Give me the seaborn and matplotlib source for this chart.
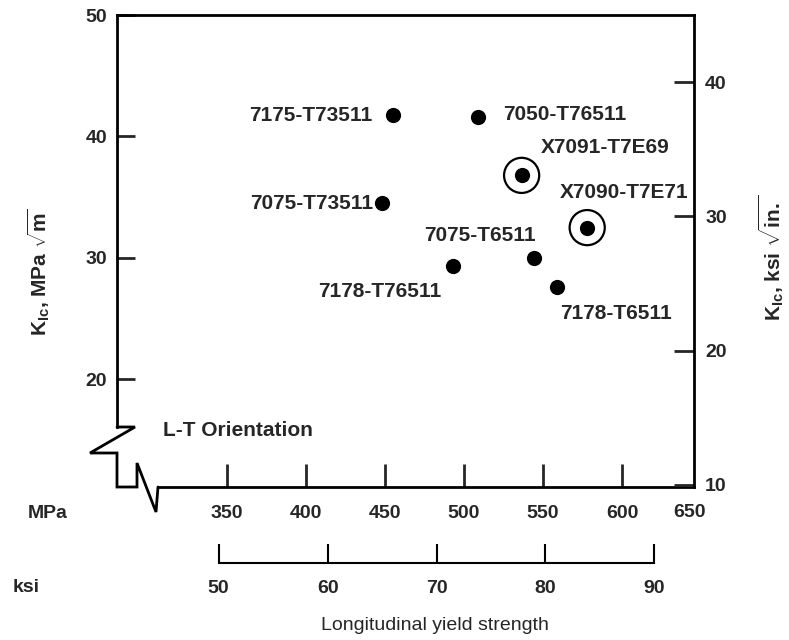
import matplotlib
matplotlib.use("Agg")
import matplotlib.pyplot as plt
import seaborn as sns
import pandas as pd
from matplotlib.lines import Line2D

# ---------------- data ----------------
alloys = ["7175-T73511", "7050-T76511", "X7091-T7E69", "7075-T73511",
          "X7090-T7E71", "7075-T6511", "7178-T76511", "7178-T6511"]
yield_mpa = [455, 509, 536.5, 448, 578, 544.5, 493, 559]
kic_mpa = [41.8, 41.6, 36.8, 34.5, 32.5, 30.0, 29.3, 27.6]
circled = [False, False, True, False, True, False, False, False]

mpa_ticks = [350, 400, 450, 500, 550, 600]
ksi_ticks = [50, 60, 70, 80, 90]
left_ticks = [20, 30, 40, 50]
right_ticks = [10, 20, 30, 40]

df = pd.DataFrame({"alloy": alloys, "ys": yield_mpa, "kic": kic_mpa, "circ": circled})

# ---------------- style ----------------
sns.set_style("white")
FONT = ["Liberation Sans", "DejaVu Sans"]
plt.rcParams["font.family"] = FONT
plt.rcParams["font.weight"] = "bold"
plt.rcParams["mathtext.fontset"] = "custom"
plt.rcParams["mathtext.rm"] = "Liberation Sans:bold"
plt.rcParams["mathtext.it"] = "Liberation Sans:bold"
plt.rcParams["mathtext.bf"] = "Liberation Sans:bold"

W, H = 789, 640
fig = plt.figure(figsize=(W / 100, H / 100), dpi=100)
L, R, T, B = 117, 694, 15, 487
ax = fig.add_axes([L / W, 1 - B / H, (R - L) / W, (B - T) / H])

XLIM = (280.4, 645.6)
YLIM = (11.15, 50.0)
ax.set_xlim(XLIM)
ax.set_ylim(YLIM)

def frac(px, py):
    return ((px - L) / (R - L), (B - py) / (B - T))

LW = 2.0
# points
sns.scatterplot(data=df, x="ys", y="kic", ax=ax, color="black", s=120,
                edgecolor="black", linewidth=0, legend=False, zorder=3)
sns.scatterplot(data=df[df["circ"]], x="ys", y="kic", ax=ax, s=640,
                facecolor="none", edgecolor="black", linewidth=1.6,
                legend=False, zorder=3)

# annotations (offsets in points)
offsets = {
    "7175-T73511": (-15, -0.7, "right"),
    "7050-T76511": (18, 2, "left"),
    "X7091-T7E69": (14, 20, "left"),
    "7075-T73511": (-6.5, 0, "right"),
    "X7090-T7E71": (-20, 25, "left"),
    "7075-T6511": (1, 16, "right"),
    "7178-T76511": (-8, -18, "right"),
    "7178-T6511": (2, -19, "left"),
}
for a, xv, yv in zip(alloys, yield_mpa, kic_mpa):
    dx, dy, ha = offsets[a]
    ax.annotate(a, (xv, yv), xytext=(dx, dy), textcoords="offset points",
                ha=ha, va="center", fontsize=15, fontweight="bold")

# spines
for s in ["top", "right", "left", "bottom"]:
    ax.spines[s].set_linewidth(LW)
    ax.spines[s].set_color("black")
ax.spines["right"].set_visible(False)
y_break = YLIM[0] + frac(117, 427)[1] * (YLIM[1] - YLIM[0])
x_break = XLIM[0] + frac(158, 487)[0] * (XLIM[1] - XLIM[0])
ax.spines["left"].set_bounds(y_break, YLIM[1])
ax.spines["bottom"].set_bounds(x_break, XLIM[1])
brk = [(117, 427), (135, 427), (90, 453), (117, 453), (117, 487), (137, 487),
       (137, 463), (156, 512), (158, 487)]
bx, by = zip(*[frac(*p) for p in brk])
ax.add_line(Line2D(bx, by, transform=ax.transAxes, color="black", lw=LW,
                   clip_on=False, solid_joinstyle="miter"))

# ticks
ax.set_xticks(mpa_ticks)
ax.set_xticklabels([str(t) for t in mpa_ticks])
ax.tick_params(axis="x", direction="in", length=16.5, width=LW, pad=13,
               labelsize=14, bottom=True, top=False)
ax.set_yticks(left_ticks)
ax.set_yticklabels([str(t) for t in left_ticks])
ax.tick_params(axis="y", direction="in", length=13, width=LW, pad=7,
               labelsize=14, left=True, right=False)
ax.annotate("650", (1.0, 0.0), xycoords="axes fraction", xytext=(-3, -12),
            textcoords="offset points", ha="center", va="top", fontsize=14,
            fontweight="bold")
ax.set_xlabel("")
ax.set_ylabel("")

# right axis (ksi sqrt in)
axr = ax.twinx()
axr.set_ylim(9.85, 45.0)
axr.set_yticks(right_ticks)
axr.set_yticklabels([str(t) for t in right_ticks])
axr.tick_params(axis="y", direction="in", length=14.4, width=LW, pad=8,
                labelsize=14, right=True, left=False)
for s in ["top", "left", "bottom"]:
    axr.spines[s].set_visible(False)
axr.spines["right"].set_linewidth(LW)
axr.spines["right"].set_color("black")
axr.set_ylabel("")

# ksi scale
ksi_per_mpa = 1 / 6.895
ax2 = fig.add_axes([L / W, 1 - 563 / H, (R - L) / W, 0.0001])
ax2.set_xlim(XLIM[0] * ksi_per_mpa, XLIM[1] * ksi_per_mpa)
for s in ["top", "left", "right"]:
    ax2.spines[s].set_visible(False)
ax2.spines["bottom"].set_bounds(ksi_ticks[0], ksi_ticks[-1])
ax2.spines["bottom"].set_linewidth(1.5)
ax2.spines["bottom"].set_color("black")
ax2.set_xticks(ksi_ticks)
ax2.set_xticklabels([str(t) for t in ksi_ticks])
ax2.tick_params(axis="x", direction="in", length=14, width=1.5, pad=12,
                labelsize=14, bottom=True, top=False, color="black")
ax2.set_yticks([])
ax2.patch.set_alpha(0)

# labels
fig.text(28 / W, 1 - 513 / H, "MPa", ha="left", va="center", fontsize=14,
         fontweight="bold")
fig.text(13 / W, 1 - 587 / H, "ksi", ha="left", va="center", fontsize=14,
         fontweight="bold")
fig.text(435 / W, 1 - 625 / H, "Longitudinal yield strength", ha="center",
         va="center", fontsize=14, fontweight="normal")
fig.text(39 / W, 1 - 272 / H, r"$\mathregular{K_{Ic}}$, MPa $\sqrt{\mathregular{m}}$",
         rotation=90, ha="center", va="center", fontsize=15, fontweight="bold")
fig.text(771 / W, 1 - 258 / H, r"$\mathregular{K_{Ic}}$, ksi $\sqrt{\mathregular{in.}}$",
         rotation=90, ha="center", va="center", fontsize=15, fontweight="bold")
ax.text(*frac(163, 430), "L-T Orientation", transform=ax.transAxes,
        ha="left", va="center", fontsize=15, fontweight="bold")

fig.savefig("out.png", dpi=100)
